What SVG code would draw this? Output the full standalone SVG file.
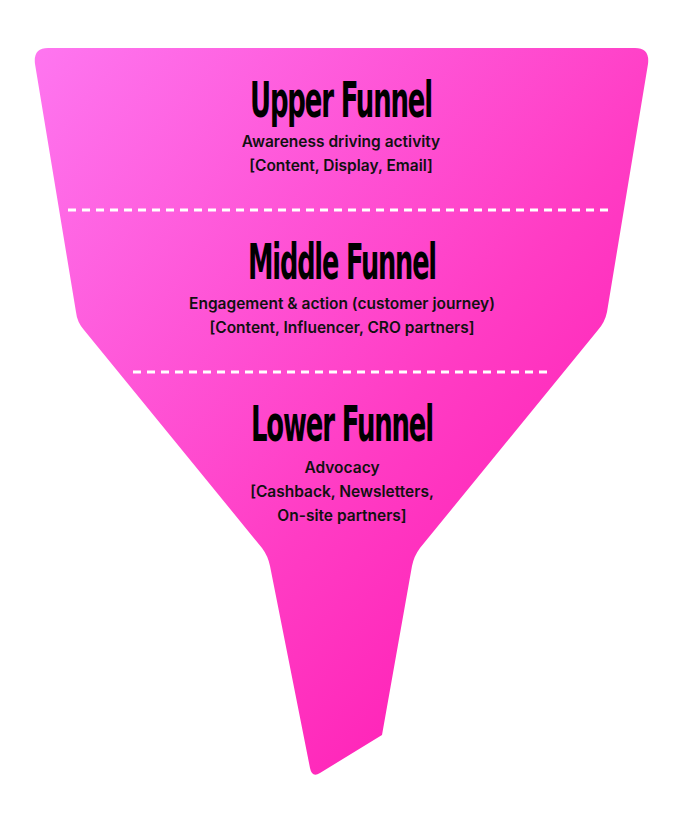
<svg xmlns="http://www.w3.org/2000/svg" width="681" height="818" viewBox="0 0 681 818">
<defs>
<linearGradient id="g" x1="0" y1="0" x2="1" y2="1" gradientUnits="objectBoundingBox">
<stop offset="0" stop-color="#fe76f0"/>
<stop offset="0.55" stop-color="#ff3cc4"/>
<stop offset="1" stop-color="#ff0fae"/>
</linearGradient>
<style>
.t{font-family:"DejaVu Sans Condensed","DejaVu Sans",sans-serif;font-weight:bold;font-size:50px;fill:#000;text-anchor:middle;letter-spacing:-2px}
.s{font-family:Inter,"Liberation Sans",sans-serif;font-weight:600;font-size:15.5px;fill:#111;text-anchor:middle}
.d{stroke:#fff;stroke-width:3;stroke-dasharray:8 6;fill:none}
</style>
</defs>
<g id="funnel">
<path d="M48,48 L635,48 Q650,48 648,64 L607,312 Q605,322 598,330 L420,548 Q414,556 412,566 L382,735 L320,773 Q312,778 310,768 L270,566 Q268,556 262,548 L84,330 Q77,322 76,312 L35,64 Q33,48 48,48 Z" fill="url(#g)"/>
</g>
<g id="connectors">
<line class="d" x1="68" y1="210" x2="612" y2="210"/>
<line class="d" x1="133" y1="372" x2="547" y2="372"/>
</g>
<g id="upper">
<text class="t" x="341" y="117" textLength="182" lengthAdjust="spacingAndGlyphs">Upper Funnel</text>
<text class="s" x="341" y="147">Awareness driving activity</text>
<text class="s" x="341" y="171">[Content, Display, Email]</text>
</g>
<g id="middle">
<text class="t" x="342" y="279" textLength="188" lengthAdjust="spacingAndGlyphs">Middle Funnel</text>
<text class="s" x="342" y="309">Engagement &amp; action (customer journey)</text>
<text class="s" x="342" y="333">[Content, Influencer, CRO partners]</text>
</g>
<g id="lower">
<text class="t" x="342" y="441" textLength="182" lengthAdjust="spacingAndGlyphs">Lower Funnel</text>
<text class="s" x="342" y="473">Advocacy</text>
<text class="s" x="342" y="497">[Cashback, Newsletters,</text>
<text class="s" x="342" y="521">On-site partners]</text>
</g>
</svg>
